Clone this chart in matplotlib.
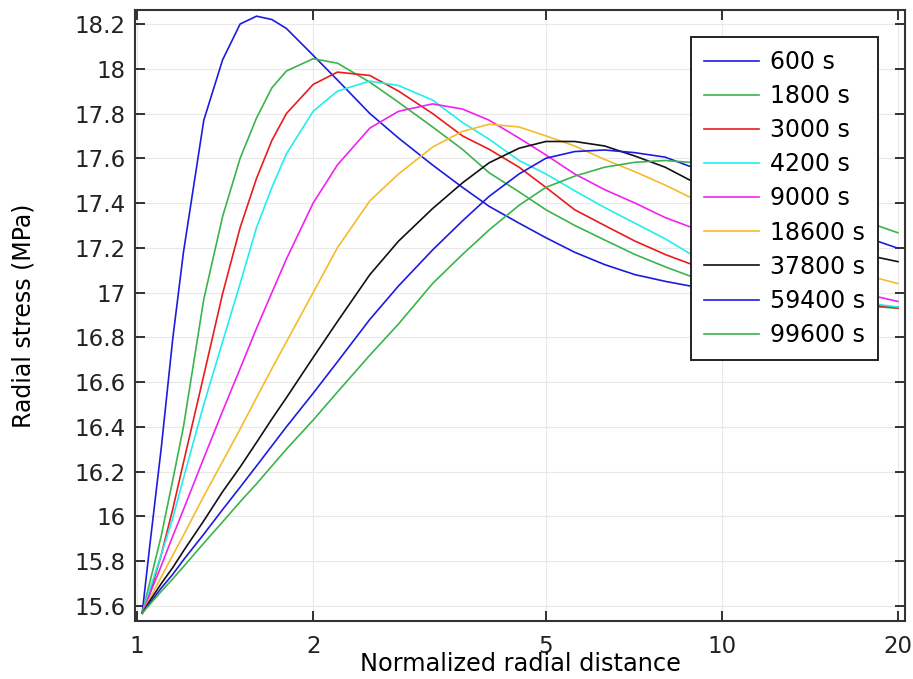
import matplotlib
matplotlib.use('Agg')
import matplotlib.pyplot as plt
from matplotlib.ticker import FixedLocator, FuncFormatter, NullLocator

# normalized radial distance (common sampling for all curves)
r = [1.02, 1.05, 1.1, 1.15, 1.2, 1.3, 1.4, 1.5, 1.6, 1.7, 1.8, 2.0, 2.2, 2.5, 2.8,
     3.2, 3.6, 4.0, 4.5, 5.0, 5.6, 6.3, 7.1, 8.0, 9.0, 10, 11.5, 13, 15, 17.5, 20]

labels = ['600 s', '1800 s', '3000 s', '4200 s', '9000 s',
          '18600 s', '37800 s', '59400 s', '99600 s']

s_600 = [15.567, 15.86, 16.31, 16.79, 17.18, 17.77, 18.04, 18.20, 18.235, 18.22, 18.18,
         18.06, 17.95, 17.80, 17.69, 17.57, 17.47, 17.385, 17.31, 17.245, 17.18, 17.125,
         17.08, 17.05, 17.025, 17.00, 16.98, 16.965, 16.95, 16.94, 16.935]
s_1800 = [15.567, 15.70, 15.915, 16.16, 16.40, 16.97, 17.34, 17.60, 17.78, 17.915, 17.99,
          18.045, 18.025, 17.94, 17.85, 17.74, 17.64, 17.535, 17.45, 17.37, 17.30, 17.235,
          17.17, 17.115, 17.065, 17.035, 17.0, 16.975, 16.955, 16.94, 16.93]
s_3000 = [15.567, 15.65, 15.83, 16.03, 16.24, 16.63, 16.995, 17.29, 17.51, 17.68, 17.80,
          17.93, 17.985, 17.97, 17.90, 17.80, 17.70, 17.64, 17.56, 17.47, 17.37, 17.30,
          17.23, 17.17, 17.12, 17.08, 17.04, 17.0, 16.97, 16.95, 16.93]
s_4200 = [15.567, 15.67, 15.83, 15.99, 16.17, 16.50, 16.78, 17.04, 17.29, 17.47, 17.62,
          17.81, 17.90, 17.945, 17.925, 17.86, 17.76, 17.685, 17.59, 17.53, 17.455, 17.38,
          17.31, 17.24, 17.16, 17.11, 17.06, 17.02, 16.985, 16.955, 16.935]
s_9000 = [15.567, 15.65, 15.78, 15.91, 16.03, 16.26, 16.47, 16.66, 16.84, 17.0, 17.15,
          17.40, 17.57, 17.735, 17.81, 17.843, 17.82, 17.77, 17.69, 17.615, 17.53, 17.46,
          17.40, 17.335, 17.285, 17.23, 17.17, 17.11, 17.05, 16.995, 16.96]
s_18600 = [15.567, 15.63, 15.73, 15.825, 15.915, 16.09, 16.245, 16.39, 16.53, 16.66, 16.78,
           17.0, 17.2, 17.41, 17.53, 17.65, 17.72, 17.752, 17.74, 17.70, 17.655, 17.595,
           17.54, 17.48, 17.415, 17.35, 17.27, 17.2, 17.13, 17.08, 17.04]
s_37800 = [15.567, 15.62, 15.70, 15.77, 15.845, 15.98, 16.11, 16.22, 16.33, 16.435, 16.53,
           16.71, 16.87, 17.08, 17.23, 17.375, 17.49, 17.58, 17.645, 17.675, 17.675, 17.655,
           17.61, 17.56, 17.49, 17.43, 17.35, 17.28, 17.21, 17.17, 17.138]
s_59400 = [15.567, 15.61, 15.68, 15.74, 15.805, 15.92, 16.03, 16.13, 16.225, 16.315, 16.40,
           16.55, 16.69, 16.88, 17.03, 17.19, 17.32, 17.43, 17.53, 17.60, 17.63, 17.637,
           17.625, 17.605, 17.555, 17.51, 17.44, 17.38, 17.31, 17.25, 17.198]
s_99600 = [15.567, 15.605, 15.665, 15.72, 15.775, 15.88, 15.975, 16.065, 16.145, 16.225, 16.30,
           16.43, 16.555, 16.72, 16.86, 17.04, 17.17, 17.28, 17.39, 17.47, 17.52, 17.56,
           17.582, 17.59, 17.58, 17.56, 17.51, 17.45, 17.38, 17.32, 17.267]

series = [s_600, s_1800, s_3000, s_4200, s_9000, s_18600, s_37800, s_59400, s_99600]
colors = ['#1c1ce0', '#3cb44b', '#e81c1c', '#22eeee', '#f022f0',
          '#f5bb2a', '#111111', '#1c1ce0', '#3cb44b']

xticks = [1, 2, 5, 10, 20]
yticks = [15.6 + 0.2 * i for i in range(14)]

plt.rcParams['font.family'] = 'DejaVu Sans'
fig = plt.figure(figsize=(9.13, 6.79), dpi=100)
ax = fig.add_axes([0.148, 0.0854, 0.843, 0.9])

for ys, c, lab in zip(series, colors, labels):
    ax.plot(r, ys, color=c, lw=1.2, label=lab)

ax.set_xscale('log')
ax.set_xlim(0.992, 20.55)
ax.set_ylim(15.532, 18.263)
ax.xaxis.set_major_locator(FixedLocator(xticks))
ax.xaxis.set_minor_locator(NullLocator())
ax.xaxis.set_major_formatter(FuncFormatter(lambda v, p: f'{v:g}'))
ax.yaxis.set_major_locator(FixedLocator(yticks))
ax.yaxis.set_major_formatter(FuncFormatter(lambda v, p: f'{round(v, 1):g}'))

ax.grid(True, color='#e8e8e8', lw=0.8)
ax.set_axisbelow(True)
ax.tick_params(which='major', direction='in', length=7, width=1.3, top=True, right=True,
               labelsize=16.5, colors='#222222')
ax.tick_params(axis='y', pad=7)
ax.tick_params(axis='x', pad=10)
for sp in ax.spines.values():
    sp.set_linewidth(1.5)
    sp.set_color('#333333')

ax.set_xlabel('Normalized radial distance', fontsize=17.3, labelpad=-4)
ax.set_ylabel('Radial stress (MPa)', fontsize=17, labelpad=28)

leg = ax.legend(loc='upper right', bbox_to_anchor=(0.965, 0.956), borderaxespad=0,
                fontsize=17, frameon=True, fancybox=False, edgecolor='#222222',
                framealpha=1, handlelength=2.3, labelspacing=0.43, borderpad=0.55,
                handletextpad=0.47)
leg.get_frame().set_linewidth(1.4)

fig.savefig('out.png', dpi=100)
